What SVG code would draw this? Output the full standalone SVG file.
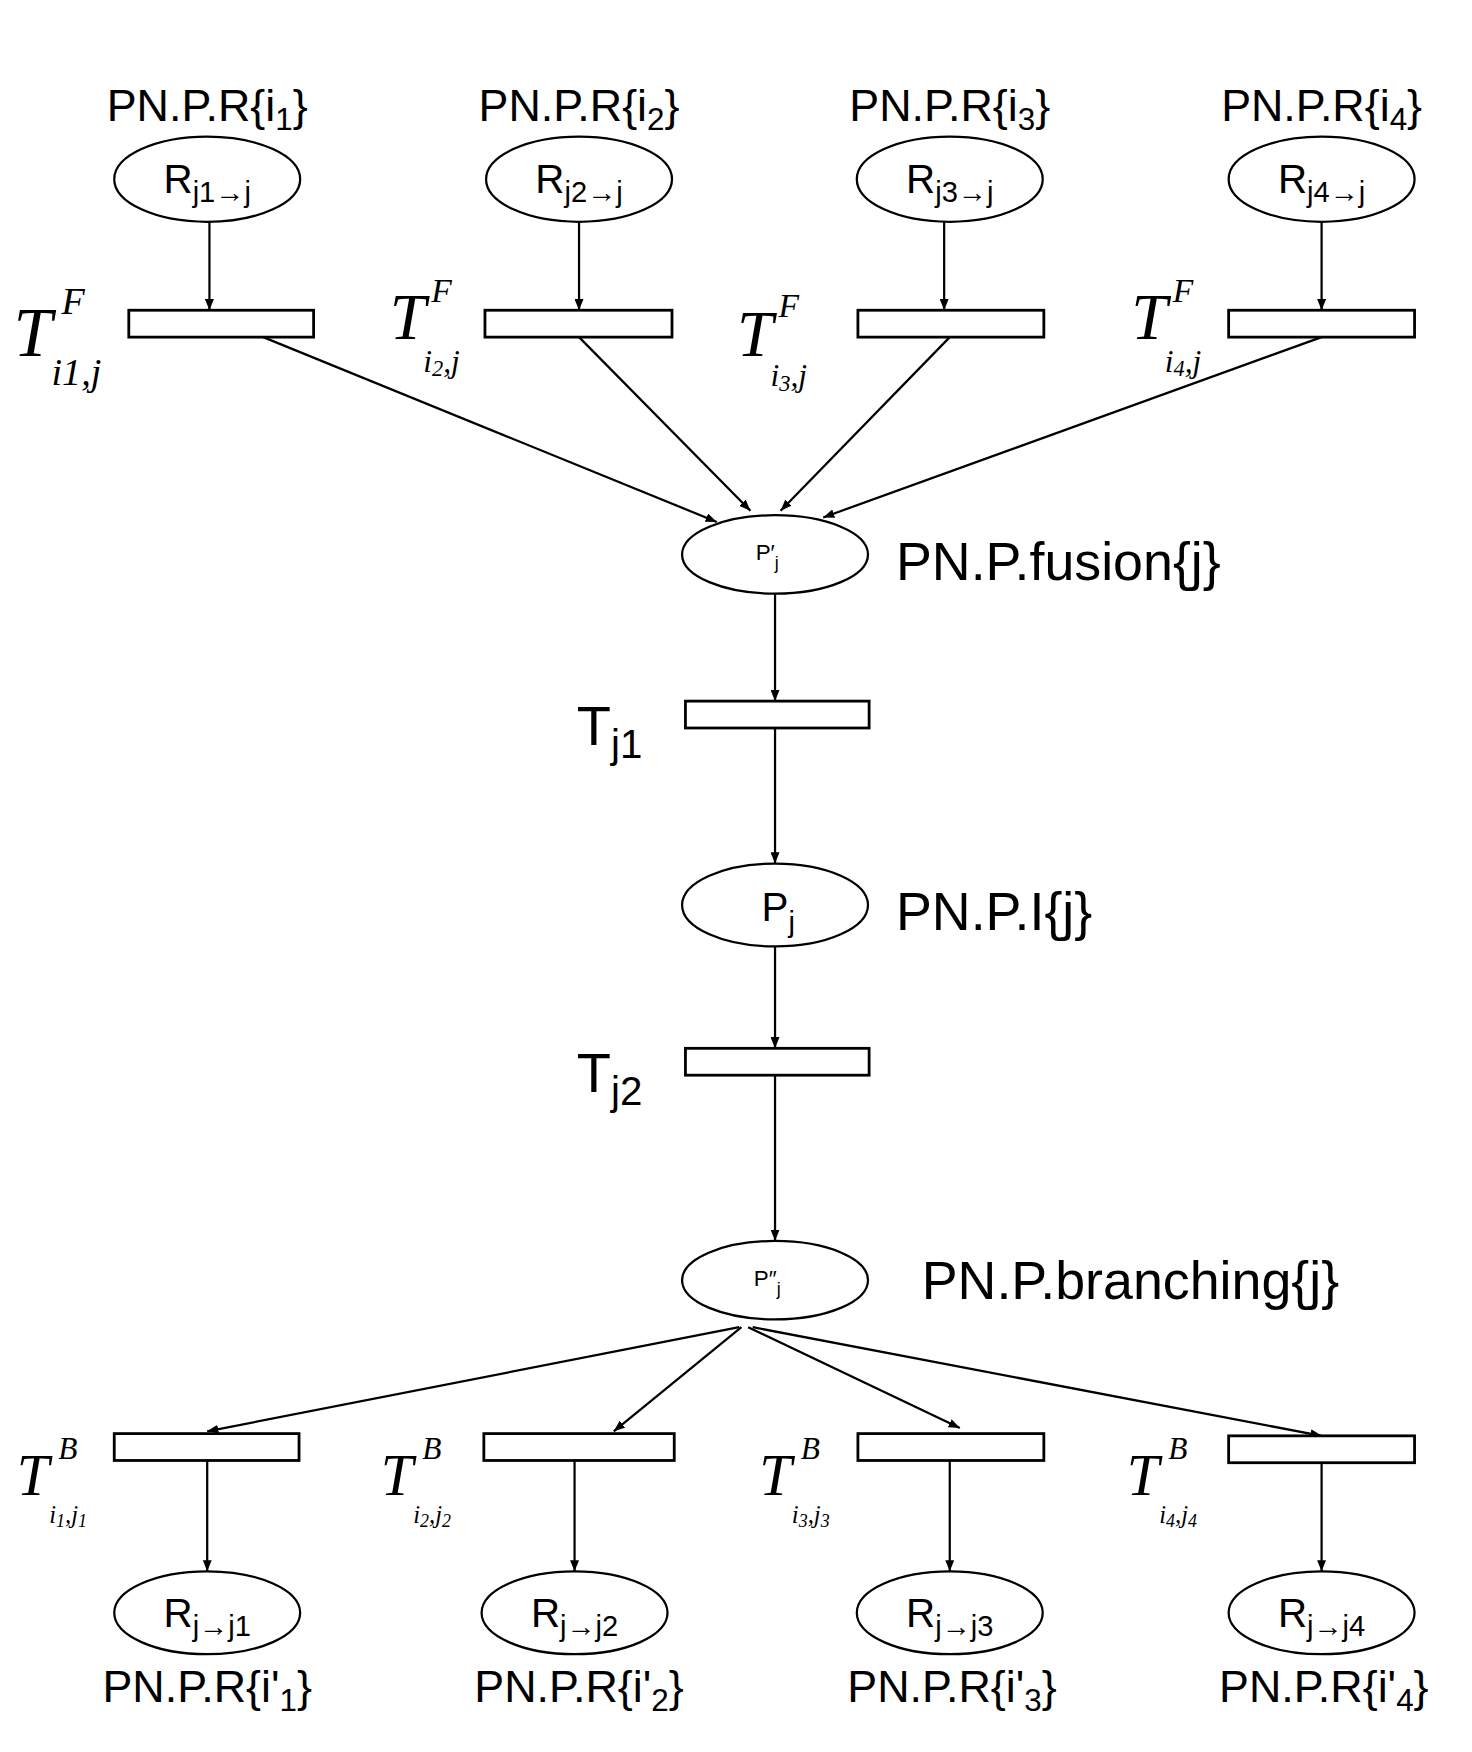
<svg xmlns="http://www.w3.org/2000/svg" width="1472" height="1752" viewBox="0 0 1472 1752">
<style>
.n{fill:#fff;stroke:#000;stroke-width:2}
.r{fill:#fff;stroke:#000;stroke-width:2.5}
.t{font-family:"Liberation Sans",Arial,sans-serif;fill:#000}
.m{font-family:"Liberation Serif","Times New Roman",serif;font-style:italic;fill:#000}
.c line{stroke:#000;stroke-width:2;marker-end:url(#a)}
</style>
<defs><marker id="a" markerWidth="10" markerHeight="8" refX="10" refY="4" orient="auto" markerUnits="userSpaceOnUse"><path d="M0,0L10,4L0,8z" fill="#000"/></marker></defs>
<rect width="1472" height="1752" fill="#fff"/>
<g transform="scale(1.12)">
<g class="c">
<line x1="187" y1="198" x2="187" y2="277"/><line x1="517" y1="198" x2="517" y2="277"/><line x1="843" y1="198" x2="843" y2="277"/><line x1="1180" y1="198" x2="1180" y2="277"/>
<line x1="235" y1="301" x2="640" y2="466"/><line x1="517" y1="301" x2="670" y2="456"/><line x1="848" y1="301" x2="697" y2="456"/><line x1="1180" y1="301" x2="735" y2="462"/>
<line x1="692" y1="530" x2="692" y2="626"/><line x1="692" y1="650" x2="692" y2="771"/><line x1="692" y1="845" x2="692" y2="936"/><line x1="692" y1="960" x2="692" y2="1108"/>
<line x1="660" y1="1185" x2="185" y2="1278"/><line x1="662" y1="1185" x2="548" y2="1278"/><line x1="668" y1="1185" x2="857" y2="1275"/><line x1="672" y1="1185" x2="1180" y2="1282"/>
<line x1="185" y1="1304" x2="185" y2="1403"/><line x1="513" y1="1304" x2="513" y2="1403"/><line x1="848" y1="1304" x2="848" y2="1403"/><line x1="1180" y1="1304" x2="1180" y2="1403"/>
</g>
<g id="R1"><text class="t" x="185" y="108" font-size="40" text-anchor="middle">PN.P.R{i<tspan font-size="28" dy="8">1</tspan><tspan dy="-8">}</tspan></text><ellipse class="n" cx="185" cy="160" rx="83" ry="38"/><text class="t" x="185" y="172" font-size="36" text-anchor="middle">R<tspan font-size="26" dy="8">j1→j</tspan></text></g>
<g id="R2"><text class="t" x="517" y="108" font-size="40" text-anchor="middle">PN.P.R{i<tspan font-size="28" dy="8">2</tspan><tspan dy="-8">}</tspan></text><ellipse class="n" cx="517" cy="160" rx="83" ry="38"/><text class="t" x="517" y="172" font-size="36" text-anchor="middle">R<tspan font-size="26" dy="8">j2→j</tspan></text></g>
<g id="R3"><text class="t" x="848" y="108" font-size="40" text-anchor="middle">PN.P.R{i<tspan font-size="28" dy="8">3</tspan><tspan dy="-8">}</tspan></text><ellipse class="n" cx="848" cy="160" rx="83" ry="38"/><text class="t" x="848" y="172" font-size="36" text-anchor="middle">R<tspan font-size="26" dy="8">j3→j</tspan></text></g>
<g id="R4"><text class="t" x="1180" y="108" font-size="40" text-anchor="middle">PN.P.R{i<tspan font-size="28" dy="8">4</tspan><tspan dy="-8">}</tspan></text><ellipse class="n" cx="1180" cy="160" rx="83" ry="38"/><text class="t" x="1180" y="172" font-size="36" text-anchor="middle">R<tspan font-size="26" dy="8">j4→j</tspan></text></g>
<g id="TF1"><rect class="r" x="115" y="277" width="165" height="24"/><text class="m" x="12" y="318" font-size="62">T</text><text class="m" x="55" y="280" font-size="34">F</text><text class="m" x="46" y="344" font-size="34">i1,j</text></g>
<g id="TF2"><rect class="r" x="433" y="277" width="167" height="24"/><text class="m" x="348" y="303" font-size="58">T</text><text class="m" x="385" y="270" font-size="30">F</text><text class="m" x="378" y="332" font-size="28">i<tspan font-size="20" dy="4">2</tspan><tspan dy="-4">,j</tspan></text></g>
<g id="TF3"><rect class="r" x="766" y="277" width="166" height="24"/><text class="m" x="658" y="318" font-size="58">T</text><text class="m" x="695" y="283" font-size="30">F</text><text class="m" x="688" y="345" font-size="28">i<tspan font-size="20" dy="4">3</tspan><tspan dy="-4">,j</tspan></text></g>
<g id="TF4"><rect class="r" x="1097" y="277" width="166" height="24"/><text class="m" x="1010" y="303" font-size="58">T</text><text class="m" x="1047" y="270" font-size="30">F</text><text class="m" x="1040" y="332" font-size="28">i<tspan font-size="20" dy="4">4</tspan><tspan dy="-4">,j</tspan></text></g>
<g id="Pf"><ellipse class="n" cx="692" cy="495" rx="83" ry="35"/><text class="t" x="685" y="500" font-size="20" text-anchor="middle">P′<tspan font-size="16" dy="8">j</tspan></text><text class="t" x="800" y="518" font-size="48">PN.P.fusion{j}</text></g>
<g id="Tj1"><rect class="r" x="612" y="626" width="164" height="24"/><text class="t" x="515" y="665" font-size="50">T<tspan font-size="36" dy="12">j1</tspan></text></g>
<g id="Pj"><ellipse class="n" cx="692" cy="808" rx="83" ry="37"/><text class="t" x="680" y="822" font-size="36">P<tspan font-size="26" dy="10">j</tspan></text><text class="t" x="800" y="830" font-size="48">PN.P.I{j}</text></g>
<g id="Tj2"><rect class="r" x="612" y="936" width="164" height="24"/><text class="t" x="515" y="975" font-size="50">T<tspan font-size="36" dy="12">j2</tspan></text></g>
<g id="Pb"><ellipse class="n" cx="692" cy="1143" rx="83" ry="35"/><text class="t" x="685" y="1148" font-size="20" text-anchor="middle">P″<tspan font-size="16" dy="8">j</tspan></text><text class="t" x="823" y="1160" font-size="48">PN.P.branching{j}</text></g>
<g id="TB1"><rect class="r" x="102" y="1280" width="165" height="24"/><text class="m" x="15" y="1335" font-size="52">T</text><text class="m" x="52" y="1303" font-size="28">B</text><text class="m" x="44" y="1360" font-size="22">i<tspan font-size="16" dy="3">1</tspan><tspan dy="-3">,j</tspan><tspan font-size="16" dy="3">1</tspan></text></g>
<g id="TB2"><rect class="r" x="432" y="1280" width="170" height="24"/><text class="m" x="340" y="1335" font-size="52">T</text><text class="m" x="377" y="1303" font-size="28">B</text><text class="m" x="369" y="1360" font-size="22">i<tspan font-size="16" dy="3">2</tspan><tspan dy="-3">,j</tspan><tspan font-size="16" dy="3">2</tspan></text></g>
<g id="TB3"><rect class="r" x="766" y="1280" width="166" height="24"/><text class="m" x="678" y="1335" font-size="52">T</text><text class="m" x="715" y="1303" font-size="28">B</text><text class="m" x="707" y="1360" font-size="22">i<tspan font-size="16" dy="3">3</tspan><tspan dy="-3">,j</tspan><tspan font-size="16" dy="3">3</tspan></text></g>
<g id="TB4"><rect class="r" x="1097" y="1282" width="166" height="24"/><text class="m" x="1006" y="1335" font-size="52">T</text><text class="m" x="1043" y="1303" font-size="28">B</text><text class="m" x="1035" y="1360" font-size="22">i<tspan font-size="16" dy="3">4</tspan><tspan dy="-3">,j</tspan><tspan font-size="16" dy="3">4</tspan></text></g>
<g id="Ro1"><ellipse class="n" cx="185" cy="1440" rx="83" ry="37"/><text class="t" x="185" y="1453" font-size="36" text-anchor="middle">R<tspan font-size="26" dy="8">j→j1</tspan></text><text class="t" x="185" y="1520" font-size="40" text-anchor="middle">PN.P.R{i'<tspan font-size="28" dy="8">1</tspan><tspan dy="-8">}</tspan></text></g>
<g id="Ro2"><ellipse class="n" cx="513" cy="1440" rx="83" ry="37"/><text class="t" x="513" y="1453" font-size="36" text-anchor="middle">R<tspan font-size="26" dy="8">j→j2</tspan></text><text class="t" x="517" y="1520" font-size="40" text-anchor="middle">PN.P.R{i'<tspan font-size="28" dy="8">2</tspan><tspan dy="-8">}</tspan></text></g>
<g id="Ro3"><ellipse class="n" cx="848" cy="1440" rx="83" ry="37"/><text class="t" x="848" y="1453" font-size="36" text-anchor="middle">R<tspan font-size="26" dy="8">j→j3</tspan></text><text class="t" x="850" y="1520" font-size="40" text-anchor="middle">PN.P.R{i'<tspan font-size="28" dy="8">3</tspan><tspan dy="-8">}</tspan></text></g>
<g id="Ro4"><ellipse class="n" cx="1180" cy="1440" rx="83" ry="37"/><text class="t" x="1180" y="1453" font-size="36" text-anchor="middle">R<tspan font-size="26" dy="8">j→j4</tspan></text><text class="t" x="1182" y="1520" font-size="40" text-anchor="middle">PN.P.R{i'<tspan font-size="28" dy="8">4</tspan><tspan dy="-8">}</tspan></text></g>
</g>
</svg>
